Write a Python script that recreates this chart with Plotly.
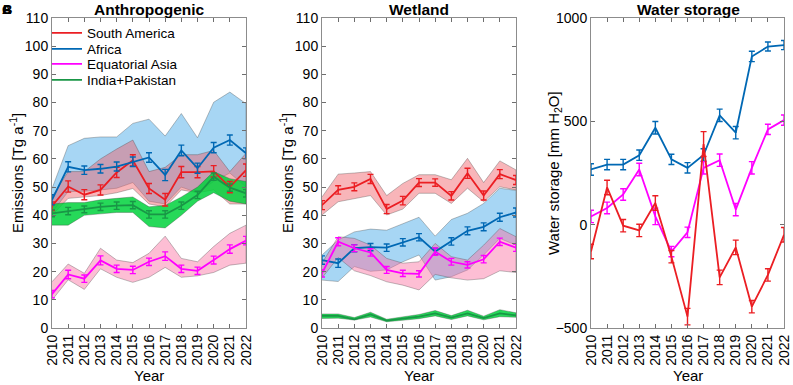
import plotly.graph_objects as go
from plotly.subplots import make_subplots

years = [2010, 2011, 2012, 2013, 2014, 2015, 2016, 2017, 2018, 2019, 2020, 2021, 2022]
year_labels = [str(y) for y in years]

# ---------------- Panel A: Anthropogenic ----------------
A_SA = [43.2, 50.2, 47.3, 49.0, 55.2, 59.5, 49.5, 45.5, 55.3, 55.3, 55.6, 50.0, 56.0]
A_SA_err = [1.5, 2.0, 1.8, 1.8, 1.8, 2.0, 1.8, 2.2, 2.0, 2.0, 2.0, 2.0, 2.2]
A_SA_hi = [46.5, 55.5, 55.5, 60.0, 63.5, 66.7, 55.5, 57.0, 61.5, 61.5, 63.0, 55.5, 62.0]
A_SA_lo = [40.0, 46.0, 46.5, 47.0, 48.0, 49.5, 44.0, 43.0, 49.0, 48.0, 49.0, 44.0, 44.0]

A_AF = [45.5, 57.2, 56.0, 56.5, 57.3, 59.0, 60.5, 54.3, 63.0, 56.7, 64.0, 66.7, 62.0]
A_AF_err = [1.8, 1.8, 1.5, 1.5, 1.6, 1.7, 1.7, 2.0, 1.9, 1.8, 1.8, 1.8, 1.9]
A_AF_hi = [49.5, 64.7, 67.3, 67.8, 67.8, 72.6, 74.1, 68.1, 76.1, 67.5, 80.1, 83.7, 79.6]
A_AF_lo = [41.0, 48.4, 48.5, 49.0, 49.6, 51.6, 45.0, 44.0, 50.0, 48.0, 52.0, 55.0, 50.0]

A_EA = [12.0, 19.0, 17.5, 24.0, 21.0, 20.6, 23.5, 25.5, 21.0, 20.3, 24.1, 28.0, 31.0]
A_EA_err = [1.3, 1.5, 1.3, 1.6, 1.3, 1.3, 1.3, 1.5, 1.3, 1.3, 1.4, 1.5, 1.5]
A_EA_hi = [16.4, 22.7, 19.4, 28.3, 24.1, 23.2, 26.5, 32.6, 24.7, 23.5, 28.9, 33.6, 36.5]
A_EA_lo = [9.9, 17.1, 13.7, 21.0, 18.0, 16.2, 18.0, 21.5, 18.0, 18.5, 19.7, 22.3, 23.0]

A_IP = [40.7, 41.5, 42.1, 43.0, 43.4, 43.6, 40.3, 40.3, 43.4, 47.2, 53.7, 49.8, 47.8]
A_IP_err = [1.2, 1.3, 1.2, 1.3, 1.3, 1.3, 1.3, 1.3, 1.3, 1.3, 1.3, 1.3, 1.3]
A_IP_hi = [44.0, 44.5, 44.5, 45.5, 46.0, 46.5, 43.0, 43.5, 46.5, 50.0, 55.5, 53.0, 52.0]
A_IP_lo = [36.5, 36.5, 40.0, 40.5, 41.0, 41.0, 36.0, 35.5, 40.0, 45.0, 48.0, 45.0, 44.0]

# ---------------- Panel B: Wetland ----------------
B_SA = [43.6, 49.0, 50.1, 52.9, 42.2, 45.2, 51.6, 51.6, 46.9, 54.9, 47.0, 54.6, 52.5]
B_SA_err = [1.6, 1.5, 1.4, 1.6, 1.6, 1.5, 1.4, 1.3, 1.5, 1.8, 1.6, 1.6, 1.6]
B_SA_hi = [46.5, 54.6, 55.0, 55.5, 47.0, 51.3, 54.4, 54.4, 52.6, 60.2, 51.6, 59.3, 56.1]
B_SA_lo = [40.1, 44.8, 46.0, 47.0, 40.1, 42.2, 47.8, 47.8, 44.2, 49.6, 44.8, 50.1, 49.0]

B_AF = [24.1, 23.0, 28.3, 28.7, 28.5, 30.4, 32.2, 27.1, 30.7, 34.5, 35.9, 39.3, 41.0]
B_AF_err = [1.5, 1.5, 1.3, 1.3, 1.3, 1.3, 1.3, 1.2, 1.3, 1.4, 1.4, 1.4, 1.6]
B_AF_hi = [25.9, 31.2, 34.1, 35.1, 34.7, 36.9, 39.3, 32.6, 38.5, 40.7, 44.2, 49.6, 48.8]
B_AF_lo = [17.0, 16.5, 21.8, 20.1, 20.6, 23.5, 25.9, 17.0, 18.2, 20.6, 25.9, 31.8, 29.4]

B_EA = [19.4, 30.6, 28.3, 26.8, 20.6, 19.4, 19.2, 27.1, 23.5, 22.4, 24.4, 30.6, 28.5]
B_EA_err = [1.3, 1.4, 1.2, 1.3, 1.2, 1.1, 1.1, 1.3, 1.2, 1.1, 1.3, 1.3, 1.3]
B_EA_hi = [23.0, 32.4, 31.8, 29.4, 24.7, 23.0, 23.5, 30.0, 25.3, 24.1, 29.4, 35.3, 32.4]
B_EA_lo = [17.8, 25.0, 20.3, 18.6, 16.4, 15.2, 13.5, 19.0, 17.8, 17.0, 17.5, 20.3, 19.7]

B_IP = [4.3, 4.3, 3.1, 4.8, 2.6, 3.3, 4.0, 5.2, 3.7, 5.2, 3.5, 5.2, 4.5]
B_IP_hi = [5.0, 5.0, 3.7, 5.6, 3.1, 3.9, 4.8, 6.2, 4.4, 6.3, 4.2, 6.5, 5.4]
B_IP_lo = [3.4, 3.5, 2.8, 3.9, 2.2, 2.8, 3.3, 4.3, 3.0, 4.3, 2.9, 4.0, 3.8]

# ---------------- Panel C: Water storage ----------------
C_SA = [-130, 180, -5, -28, 105, -155, -445, 390, -255, -110, -397, -243, -49]
C_SA_err = [35, 35, 30, 30, 35, 30, 40, 60, 35, 35, 30, 30, 35]
C_AF = [267, 291, 291, 336, 469, 316, 275, 337, 529, 445, 814, 862, 869]
C_AF_err = [28, 25, 25, 25, 30, 25, 25, 30, 30, 30, 25, 22, 22]
C_EA = [40, 81, 146, 267, 40, -130, -37, 275, 312, 73, 275, 461, 506]
C_EA_err = [30, 28, 28, 30, 40, 25, 25, 30, 30, 30, 30, 25, 25]

RED = "rgb(235,30,35)"
BLUE = "rgb(0,104,180)"
MAGENTA = "rgb(255,0,255)"
GREEN = "rgb(25,150,70)"
F_RED = "rgba(240,90,100,0.45)"
F_BLUE = "rgba(60,165,230,0.45)"
F_MAG = "rgba(250,110,160,0.45)"
F_GREEN = "rgba(0,210,60,0.85)"
EDGE = "rgba(60,60,60,0.55)"

FONT = "Liberation Sans, Arial, Helvetica, sans-serif"

fig = make_subplots(rows=1, cols=3)


def band(col, hi, lo, fill):
    fig.add_trace(go.Scatter(
        x=years + years[::-1], y=hi + lo[::-1], fill="toself", fillcolor=fill,
        line=dict(color=EDGE, width=0.6), mode="lines", hoverinfo="skip",
        showlegend=False), row=1, col=col)


def series(col, vals, err, color, name=None, legend=None):
    fig.add_trace(go.Scatter(
        x=years, y=vals, mode="lines", name=name, showlegend=legend is not None,
        legend=legend if legend else "legend",
        line=dict(color=color, width=1.8),
        error_y=dict(type="data", array=err, visible=err is not None,
                     color=color, thickness=1.4, width=3)), row=1, col=col)


# Panel A
band(1, A_AF_hi, A_AF_lo, F_BLUE)
band(1, A_SA_hi, A_SA_lo, F_RED)
band(1, A_EA_hi, A_EA_lo, F_MAG)
band(1, A_IP_hi, A_IP_lo, F_GREEN)
series(1, A_SA, A_SA_err, RED, "South America", "legend")
series(1, A_AF, A_AF_err, BLUE, "Africa", "legend2")
series(1, A_EA, A_EA_err, MAGENTA, "Equatorial Asia", "legend3")
series(1, A_IP, A_IP_err, GREEN, "India+Pakistan", "legend4")

# Panel B
band(2, B_SA_hi, B_SA_lo, F_RED)
band(2, B_AF_hi, B_AF_lo, F_BLUE)
band(2, B_EA_hi, B_EA_lo, F_MAG)
band(2, B_IP_hi, B_IP_lo, F_GREEN)
series(2, B_SA, B_SA_err, RED)
series(2, B_AF, B_AF_err, BLUE)
series(2, B_EA, B_EA_err, MAGENTA)
series(2, B_IP, None, GREEN)

# Panel C
series(3, C_AF, C_AF_err, BLUE)
series(3, C_EA, C_EA_err, MAGENTA)
series(3, C_SA, C_SA_err, RED)

W, H = 793, 385
doms = [(52, 246), (322, 516), (591, 784)]
ytop, ybot = 18, 328

axis_common = dict(showline=True, linecolor="#8c8c8c", linewidth=1, mirror="ticks",
                   ticks="inside", ticklen=4, tickcolor="#6e6e6e", showgrid=False,
                   zeroline=False, automargin=False,
                   tickfont=dict(family=FONT, size=14, color="black"))

for i, (x0, x1) in enumerate(doms, start=1):
    fig.update_xaxes(dict(axis_common, domain=[x0 / W, x1 / W], range=[2010, 2022],
                          tickmode="array", tickvals=years, ticktext=year_labels,
                          tickangle=-90), row=1, col=i)
    fig.update_yaxes(dict(axis_common, domain=[1 - ybot / H, 1 - ytop / H]), row=1, col=i)

fig.update_yaxes(range=[0, 110], tickvals=list(range(0, 111, 10)), row=1, col=1)
fig.update_yaxes(range=[0, 110], tickvals=list(range(0, 111, 10)), row=1, col=2)
fig.update_yaxes(range=[-500, 1000], tickvals=[-500, 0, 500, 1000], row=1, col=3)


def note(text, x, y, size, angle=0):
    return dict(text=text, x=x / W, y=1 - y / H, xref="paper", yref="paper",
                xanchor="center", yanchor="middle", textangle=angle, showarrow=False,
                font=dict(family=FONT, size=size, color="black"))


ann = []
titles = [("Anthropogenic", 149), ("Wetland", 419), ("Water storage", 688)]
for t, xc in titles:
    ann.append(note("<b>%s</b>" % t, xc, 9, 15.5))
for (x0, x1) in doms:
    ann.append(note("Year", (x0 + x1) / 2, 375, 15))
ylabels = [("Emissions [Tg a<sup>-1</sup>]", 16), ("Emissions [Tg a<sup>-1</sup>]", 286),
           ("Water storage [mm H<sub>2</sub>O]", 554)]
for t, xc in ylabels:
    ann.append(note(t, xc, 173, 15, -90))
for letter in ["A", "B", "C"]:
    ann.append(note("<b>%s</b>" % letter, 7, 9, 13))

leg_common = dict(xanchor="left", yanchor="middle", bgcolor="rgba(255,255,255,0)",
                  font=dict(family=FONT, size=13.5, color="black"), itemwidth=30,
                  borderwidth=0)
leg_rows = [33, 49, 64, 80]
LX = 47
fig.update_layout(
    width=W, height=H, margin=dict(l=0, r=0, t=0, b=0),
    paper_bgcolor="white", plot_bgcolor="white",
    font=dict(family=FONT, size=13.5, color="black"),
    annotations=ann,
    legend=dict(leg_common, x=LX / W, y=1 - leg_rows[0] / H),
    legend2=dict(leg_common, x=LX / W, y=1 - leg_rows[1] / H),
    legend3=dict(leg_common, x=LX / W, y=1 - leg_rows[2] / H),
    legend4=dict(leg_common, x=LX / W, y=1 - leg_rows[3] / H),
)

fig.write_html("out.html", config={"displayModeBar": False},
               post_script="document.body.style.margin='0px';document.body.style.padding='0px';")
